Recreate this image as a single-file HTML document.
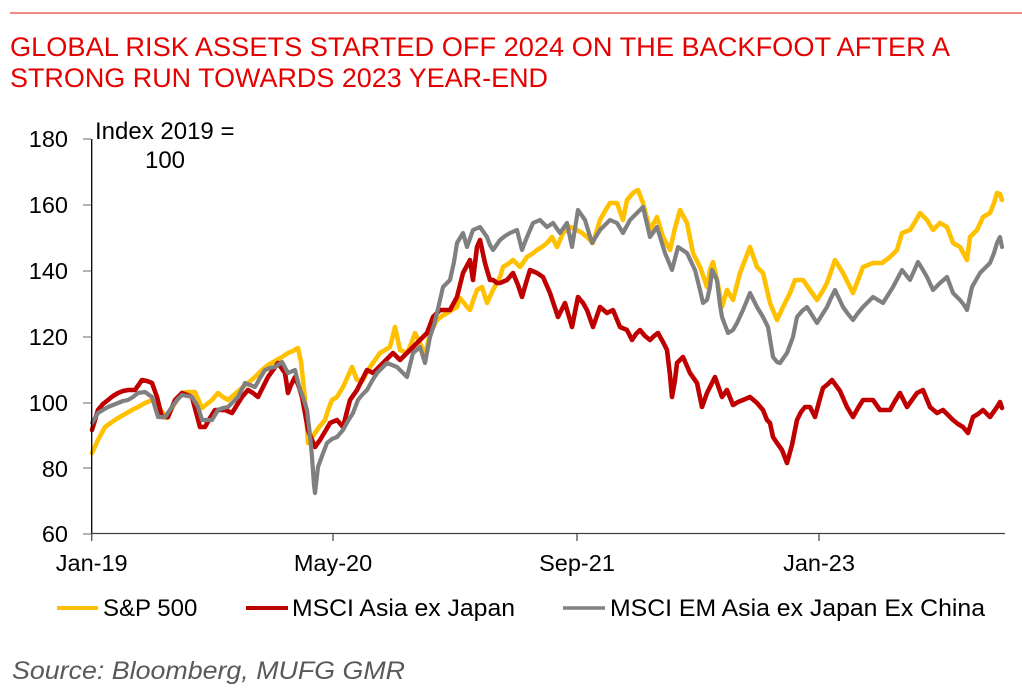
<!DOCTYPE html>
<html><head><meta charset="utf-8"><style>
html,body{margin:0;padding:0;background:#fff;}
svg{display:block;}
text{font-family:"Liberation Sans",Arial,sans-serif;}
</style></head><body>
<svg width="1022" height="700" viewBox="0 0 1022 700" xmlns="http://www.w3.org/2000/svg">
<rect width="1022" height="700" fill="#fff"/>
<line x1="10" y1="13" x2="1022" y2="13" stroke="#E8483F" stroke-width="1.2"/>
<text x="10" y="56" font-size="26.5" fill="#E60000" textLength="940" lengthAdjust="spacingAndGlyphs">GLOBAL RISK ASSETS STARTED OFF 2024 ON THE BACKFOOT AFTER A</text>
<text x="10" y="87" font-size="26.5" fill="#E60000" textLength="538" lengthAdjust="spacingAndGlyphs">STRONG RUN TOWARDS 2023 YEAR-END</text>

<g font-size="23.5" fill="#000" text-anchor="end">
<text x="68" y="147">180</text>
<text x="68" y="213">160</text>
<text x="68" y="279">140</text>
<text x="68" y="345">120</text>
<text x="68" y="411">100</text>
<text x="68" y="477">80</text>
<text x="68" y="542">60</text>
</g>
<g stroke="#808080" stroke-width="1.2">
<line x1="83" y1="139" x2="91" y2="139"/>
<line x1="83" y1="205" x2="91" y2="205"/>
<line x1="83" y1="271" x2="91" y2="271"/>
<line x1="83" y1="337" x2="91" y2="337"/>
<line x1="83" y1="403" x2="91" y2="403"/>
<line x1="83" y1="468" x2="91" y2="468"/>
<line x1="83" y1="534" x2="91" y2="534"/>
</g>
<g stroke="#404040" stroke-width="1.2">
<line x1="91.7" y1="533.5" x2="91.7" y2="541"/>
<line x1="333" y1="533.5" x2="333" y2="541"/>
<line x1="577" y1="533.5" x2="577" y2="541"/>
<line x1="819" y1="533.5" x2="819" y2="541"/>
</g>
<g font-size="23.5" fill="#000" text-anchor="middle">
<text x="91.7" y="571">Jan-19</text>
<text x="333" y="571">May-20</text>
<text x="577" y="571">Sep-21</text>
<text x="819" y="571">Jan-23</text>
</g>
<text x="95" y="139" font-size="24" fill="#000">Index 2019 =</text>
<text x="165" y="168" font-size="24" fill="#000" text-anchor="middle">100</text>

<g fill="none" stroke-linejoin="round" stroke-linecap="round">
<polyline stroke="#FFC000" stroke-width="4.6" points="92,453 98,440 105,427 112,422 118,418 125,414 132,410 138,407 145,403 152,400 157,404 162,412 167,418 172,408 177,400 182,393 188,392 195,392 202,408 207,404 212,400 218,393 223,397 228,400 235,394 242,388 248,383 255,377 262,370 268,365 275,361 282,357 288,353 293,351 298,348 301,362 303,380 306,410 308,443 312,438 315,433 320,426 325,420 328,410 332,400 337,397 343,387 348,376 352,367 357,380 363,380 367,372 370,367 375,360 380,353 385,350 390,347 395,327 400,350 407,353 411,344 415,333 420,343 425,355 430,333 437,320 442,316 447,313 452,310 457,307 460,298 464,303 467,307 470,310 474,298 477,290 482,287 487,303 493,290 500,277 503,267 508,264 513,260 520,267 527,257 532,254 537,250 542,247 547,243 552,237 557,247 563,233 570,227 577,230 582,233 587,237 593,243 600,220 605,211 610,203 617,203 623,220 627,200 633,193 638,190 643,203 650,230 657,217 663,237 670,250 675,228 680,210 687,223 693,253 700,267 707,287 710,270 713,262 718,285 722,307 727,290 733,300 740,273 745,260 750,247 757,267 763,273 770,303 777,320 783,307 790,293 795,280 803,280 810,290 817,300 822,292 827,283 835,260 843,273 848,283 853,293 858,280 863,267 873,263 882,263 890,257 897,250 902,233 910,230 915,222 920,213 927,220 933,230 940,223 947,227 953,243 960,247 967,260 970,237 977,230 983,217 990,213 994,203 997,193 1000,194 1002,200"/>
<polyline stroke="#C00000" stroke-width="4.6" points="92,430 98,410 103,404 108,400 113,396 118,393 123,391 128,390 135,390 142,380 147,381 152,383 157,397 162,417 168,417 175,400 182,393 187,395 192,397 196,412 200,427 205,427 210,418 215,410 220,410 225,410 232,413 237,405 242,397 248,390 253,393 258,397 263,387 268,377 273,370 278,363 285,373 288,393 291,385 295,377 299,387 302,397 305,413 308,430 312,440 315,447 320,440 326,430 330,423 337,420 343,427 350,400 357,390 362,380 367,370 373,373 378,368 383,363 388,358 393,353 400,360 407,353 412,348 417,343 422,338 427,333 433,317 440,310 450,310 457,297 463,273 470,260 473,280 477,247 480,240 485,263 487,270 490,280 493,280 497,283 500,283 507,280 513,273 518,285 522,297 526,283 530,270 537,273 543,277 550,293 554,305 558,317 565,303 572,327 578,297 583,303 587,310 593,327 600,307 607,313 613,310 620,327 627,330 632,340 636,334 640,330 645,336 650,340 654,336 658,333 663,342 667,350 670,375 672,397 675,380 677,363 683,357 690,373 697,383 702,407 707,393 711,385 715,377 722,397 727,390 733,405 738,402 743,400 750,397 757,403 763,410 767,420 770,423 773,437 777,443 782,450 787,463 792,445 797,420 801,412 805,407 810,407 815,417 819,402 823,388 828,384 832,380 840,391 847,407 853,417 858,408 863,400 868,400 873,400 880,410 885,410 890,410 895,401 900,393 907,407 912,400 917,393 923,390 930,407 937,413 943,410 948,415 953,420 958,424 963,427 968,433 973,417 978,414 983,410 990,417 997,407 1000,402 1002,408"/>
<polyline stroke="#808080" stroke-width="4.2" points="92,423 98,413 103,410 108,407 113,405 118,403 123,401 128,400 133,397 138,393 145,392 152,397 155,407 158,417 165,417 172,407 177,400 182,395 187,396 192,397 198,407 202,420 207,420 212,420 218,410 223,408 228,407 233,402 238,397 245,383 250,385 255,387 260,378 265,370 270,368 275,367 282,362 288,373 295,370 300,390 302,394 307,410 310,435 312,457 314,485 315,493 318,467 322,456 327,443 332,439 337,437 343,430 348,421 353,413 358,400 362,395 367,390 372,381 377,373 382,368 387,363 392,365 397,367 402,372 407,377 413,353 420,347 425,363 430,337 434,325 437,313 443,287 450,280 454,262 457,243 463,233 467,247 473,230 480,227 487,237 490,245 493,250 500,240 505,236 510,233 517,230 522,250 527,237 533,223 540,220 547,227 553,223 560,233 567,223 572,247 578,210 585,220 592,243 600,230 605,225 610,220 617,223 623,233 630,220 637,213 643,207 650,237 657,227 661,240 665,253 672,270 678,247 687,253 695,270 700,290 703,303 707,300 710,287 712,270 717,280 720,305 722,317 728,333 733,330 737,323 743,310 750,293 757,307 763,317 768,327 773,357 777,362 780,363 787,353 793,337 797,317 802,311 807,307 812,315 817,323 822,315 827,307 831,298 835,290 843,307 848,314 853,320 858,313 863,307 868,302 873,297 878,300 883,303 888,295 893,287 902,270 906,275 910,280 914,271 918,262 923,270 927,277 933,290 940,283 947,277 953,293 960,300 964,305 967,310 972,287 976,280 980,273 985,268 990,263 994,253 997,243 1000,237 1002,247"/>
</g>

<line x1="91.7" y1="139" x2="91.7" y2="534" stroke="#000" stroke-width="1.3"/>
<line x1="91" y1="533.5" x2="1005" y2="533.5" stroke="#404040" stroke-width="1.3"/>

<line x1="57" y1="608" x2="98" y2="608" stroke="#FFC000" stroke-width="4"/>
<text x="103" y="616" font-size="24" fill="#000">S&amp;P 500</text>
<line x1="246" y1="608" x2="288" y2="608" stroke="#C00000" stroke-width="4"/>
<text x="292" y="616" font-size="24" fill="#000" textLength="223" lengthAdjust="spacingAndGlyphs">MSCI Asia ex Japan</text>
<line x1="563" y1="608" x2="605" y2="608" stroke="#808080" stroke-width="3.6"/>
<text x="610" y="616" font-size="24" fill="#000" textLength="375" lengthAdjust="spacingAndGlyphs">MSCI EM Asia ex Japan Ex China</text>

<text x="12" y="679" font-size="25" font-style="italic" fill="#595959" textLength="393" lengthAdjust="spacingAndGlyphs">Source: Bloomberg, MUFG GMR</text>
</svg>
</body></html>
